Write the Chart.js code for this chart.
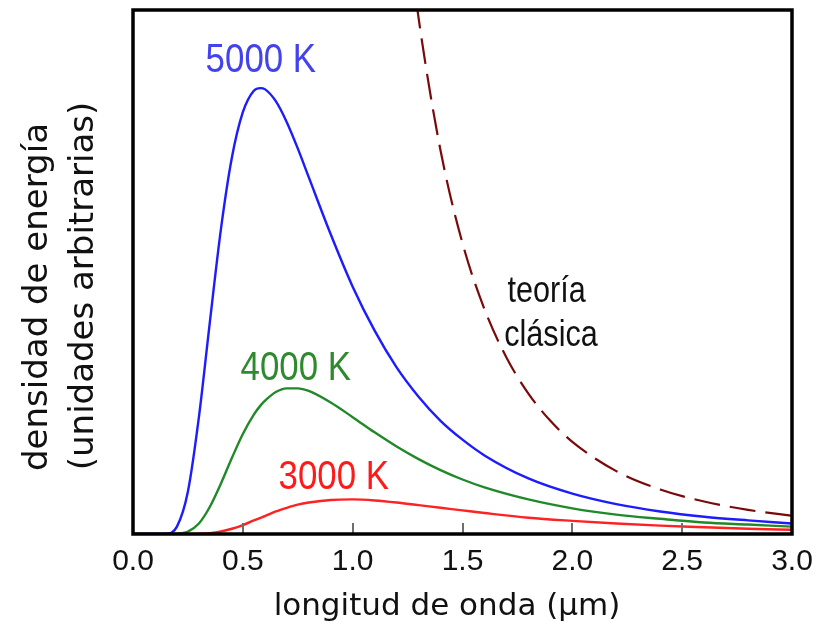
<!DOCTYPE html>
<html>
<head>
<meta charset="utf-8">
<script src="https://cdn.jsdelivr.net/npm/chart.js@4.4.1/dist/chart.umd.min.js"></script>
<style>
  html, body { margin: 0; padding: 0; background: #fff; }
  #wrap { width: 826px; height: 633px; }
</style>
</head>
<body>
<div id="wrap"><canvas id="myChart" width="826" height="633"></canvas></div>
<script>
// longitud de onda (µm) compartida por las tres curvas de Planck
const longitudes = [0, 0.1, 0.15, 0.2, 0.25, 0.3, 0.35, 0.4, 0.45, 0.5,
    0.55, 0.58, 0.6, 0.65, 0.7, 0.75, 0.8, 0.9, 1.0,
    1.1, 1.2, 1.3, 1.4, 1.5, 1.6, 1.8,
    2.0, 2.2, 2.4, 2.6, 2.8, 3.0];

const curva5000 = [0, 0, 0.05, 1.4, 8.1, 22.3, 40.5, 58.1, 71.8, 80.5,
    84.6, 85.1, 84.9, 82.6, 78.6, 73.6, 68.1, 57.2, 47.2,
    38.8, 31.8, 26.2, 21.6, 18.0, 15.0, 10.6,
    7.7, 5.7, 4.3, 3.3, 2.6, 2.0];

const curva4000 = [0, 0, 0, 0.04, 0.46, 2.0, 5.2, 9.6, 14.5, 19.1,
    22.8, 24.5, 25.4, 27.1, 27.8, 27.8, 27.3, 25.1, 22.3,
    19.4, 16.7, 14.3, 12.2, 10.4, 8.9, 6.6,
    4.9, 3.7, 2.9, 2.2, 1.8, 1.4];

const curva3000 = [0, 0, 0, 0, 0, 0.04, 0.17, 0.48, 1.0, 1.7,
    2.6, 3.1, 3.4, 4.3, 5.0, 5.6, 6.0, 6.5, 6.6,
    6.4, 6.0, 5.5, 5.0, 4.5, 4.0, 3.1,
    2.5, 2.0, 1.6, 1.3, 1.0, 0.8];

// teoría clásica (Rayleigh-Jeans)
const longitudesClasica = [1.2, 1.25, 1.3, 1.4, 1.5, 1.6, 1.7, 1.8, 1.9, 2.0, 2.2, 2.4, 2.6, 2.8, 3.0];
const curvaClasica = [135.6, 115.2, 98.5, 73.2, 55.5, 42.9, 33.7, 26.8, 21.6, 17.6, 12.0, 8.5, 6.2, 4.6, 3.5];

const ticksX = [0, 0.5, 1.0, 1.5, 2.0, 2.5, 3.0];

const tituloX = "longitud de onda (μm)";
const tituloY = ["densidad de energía", "(unidades arbitrarias)"];

function puntos(xs, ys) {
    return xs.map((x, i) => ({ x: x, y: ys[i] }));
}

const fuenteEstrecha = '"Liberation Sans", Arial, sans-serif';
const fuenteTitulo = '"DejaVu Sans", "Noto Sans", sans-serif';

// etiquetas sobre las curvas, en unidades de datos
const etiquetas = [
    { texto: "5000 K", x: 0.582, y: 88.1, color: "#4242ee", size: 41, align: "center" },
    { texto: "4000 K", x: 0.741, y: 29.3, color: "#2f8a2f", size: 41, align: "center" },
    { texto: "3000 K", x: 0.914, y: 8.6, color: "#ff1a1a", size: 41, align: "center" },
    { texto: "teoría", x: 1.705, y: 44.2, color: "#111", size: 36, align: "left" },
    { texto: "clásica", x: 1.69, y: 35.9, color: "#111", size: 36, align: "left" }
];

const marcoYEtiquetas = {
    id: "marcoYEtiquetas",
    afterDatasetsDraw(chart) {
        const c = chart.ctx;
        const a = chart.chartArea;
        const sx = chart.scales.x;
        const sy = chart.scales.y;
        c.save();
        // marcas hacia dentro
        c.strokeStyle = "#6e6e6e";
        c.lineWidth = 2;
        ticksX.forEach(v => {
            if (v === 0 || v === 3) return;
            const px = Math.round(sx.getPixelForValue(v));
            c.beginPath();
            c.moveTo(px, a.bottom);
            c.lineTo(px, a.bottom - 11);
            c.stroke();
        });
        // marco
        c.strokeStyle = "#000";
        c.lineWidth = 3.5;
        c.strokeRect(a.left, a.top, a.right - a.left, a.bottom - a.top);
        // etiquetas (letra estrecha)
        c.textBaseline = "alphabetic";
        etiquetas.forEach(e => {
            c.save();
            c.translate(sx.getPixelForValue(e.x), sy.getPixelForValue(e.y));
            c.scale(0.85, 1);
            c.font = e.size + "px " + fuenteEstrecha;
            c.fillStyle = e.color;
            c.textAlign = e.align;
            c.fillText(e.texto, 0, 0);
            c.restore();
        });
        // títulos de los ejes
        c.fillStyle = "#111";
        c.font = "31px " + fuenteTitulo;
        c.textAlign = "center";
        c.textBaseline = "middle";
        c.fillText(tituloX, 447, 607);
        c.font = "34px " + fuenteTitulo;
        const posiciones = [[38, 297], [84, 286]];
        tituloY.forEach((t, i) => {
            c.save();
            c.translate(posiciones[i][0], posiciones[i][1]);
            c.rotate(-Math.PI / 2);
            c.fillText(t, 0, 0);
            c.restore();
        });
        c.restore();
    }
};

const ctx = document.getElementById("myChart");

new Chart(ctx, {
    type: "line",
    data: {
        datasets: [
            {
                label: "5000 K",
                data: puntos(longitudes, curva5000),
                borderColor: "#1c1cff",
                borderWidth: 2.4
            },
            {
                label: "4000 K",
                data: puntos(longitudes, curva4000),
                borderColor: "#22892a",
                borderWidth: 2.4
            },
            {
                label: "3000 K",
                data: puntos(longitudes, curva3000),
                borderColor: "#ff2222",
                borderWidth: 2.4
            },
            {
                label: "teoría clásica",
                data: puntos(longitudesClasica, curvaClasica),
                borderColor: "#7a0a0a",
                borderWidth: 2.2,
                borderDash: [26, 10]
            }
        ]
    },
    options: {
        responsive: false,
        animation: false,
        events: [],
        cubicInterpolationMode: "monotone",
        elements: {
            point: { radius: 0 },
            line: { fill: false }
        },
        layout: {
            padding: { top: 10, right: 34, left: 133, bottom: 43 }
        },
        plugins: {
            legend: { display: false },
            tooltip: { enabled: false }
        },
        scales: {
            x: {
                type: "linear",
                min: 0,
                max: 3,
                grid: { display: false, drawTicks: false },
                border: { display: false },
                afterBuildTicks(scale) {
                    scale.ticks = ticksX.map(v => ({ value: v }));
                },
                ticks: {
                    padding: 10,
                    color: "#111",
                    font: { family: fuenteEstrecha, size: 30 },
                    callback: v => Number(v).toFixed(1)
                },
                title: { display: false }
            },
            y: {
                min: 0,
                max: 100,
                grid: { display: false, drawTicks: false },
                border: { display: false },
                ticks: { display: false },
                title: { display: false }
            }
        }
    },
    plugins: [marcoYEtiquetas]
});
</script>
</body>
</html>
